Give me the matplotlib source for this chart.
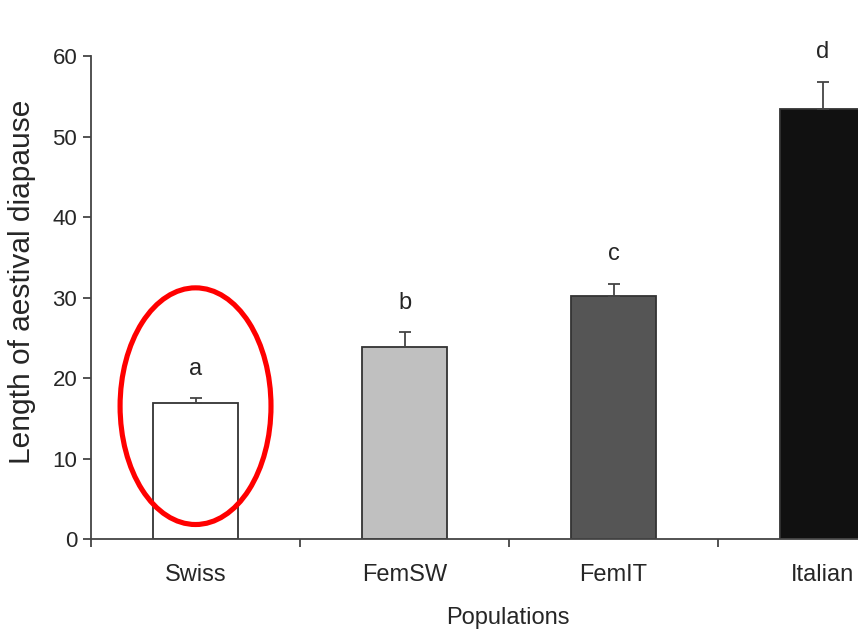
import matplotlib
matplotlib.use("Agg")
import matplotlib.pyplot as plt
from matplotlib.patches import Ellipse
import numpy as np

populations = ["Swiss", "FemSW", "FemIT", "Italian"]
diapause_mean = [16.9, 23.85, 30.2, 53.4]
diapause_se = [0.6, 1.85, 1.5, 3.4]
groups = ["a", "b", "c", "d"]
bar_colors = ["#ffffff", "#c0c0c0", "#555555", "#111111"]

y_ticks = [0, 10, 20, 30, 40, 50, 60]

AX_COL = "#444444"
TXT_COL = "#262626"
FONT = ["Liberation Sans", "DejaVu Sans"]

fig = plt.figure(figsize=(8.58, 6.33), dpi=100)
# the plot runs past the right edge of the figure (Italian bar is cut off)
ax = fig.add_axes([0.1061, 0.1485, 0.9744, 0.763])

x = np.arange(len(populations))
ax.bar(x, diapause_mean, width=0.405, color=bar_colors,
       edgecolor="#333333", linewidth=1.3, zorder=2)
ax.errorbar(x, diapause_mean, yerr=[np.zeros(len(x)), diapause_se],
            fmt="none", ecolor="#444444", elinewidth=1.3, capsize=4,
            capthick=1.3, zorder=3)

for xi, m, se, g in zip(x, diapause_mean, diapause_se, groups):
    ax.text(xi, m + se + 2.3, g, ha="center", va="bottom",
            fontsize=17, family=FONT, color=TXT_COL)

# highlight around the first population
ax.add_patch(Ellipse((0, 16.5), width=0.722, height=29.4, fill=False,
                     edgecolor="#ff0000", linewidth=3.7, zorder=4,
                     clip_on=False))

ax.set_xlim(-0.5, 3.5)
ax.set_ylim(0, 60)
ax.set_yticks(y_ticks)
ax.set_xticks([-0.5, 0.5, 1.5, 2.5, 3.5])
ax.set_xticklabels([])
ax.set_xticks(x, minor=True)
ax.set_xticklabels(populations, minor=True, fontsize=17, family=FONT,
                   color=TXT_COL)
ax.tick_params(axis="x", which="major", direction="out", length=6,
               width=1.3, color=AX_COL)
ax.tick_params(axis="x", which="minor", length=0, pad=18)
ax.tick_params(axis="y", direction="out", length=6, width=1.3,
               color=AX_COL, labelsize=16, pad=4, labelcolor=TXT_COL)
for lab in ax.get_yticklabels():
    lab.set_family(FONT)

for side in ["top", "right"]:
    ax.spines[side].set_visible(False)
for side in ["left", "bottom"]:
    ax.spines[side].set_color(AX_COL)
    ax.spines[side].set_linewidth(1.3)

ax.set_xlabel("Populations", fontsize=17, family=FONT, color=TXT_COL)
ax.xaxis.set_label_coords(0.498, -0.14)
ax.set_ylabel("Length of aestival diapause", fontsize=21.5, family=FONT,
              color=TXT_COL)
ax.yaxis.set_label_coords(-0.066, 0.532)

fig.savefig("out.png", dpi=100)
